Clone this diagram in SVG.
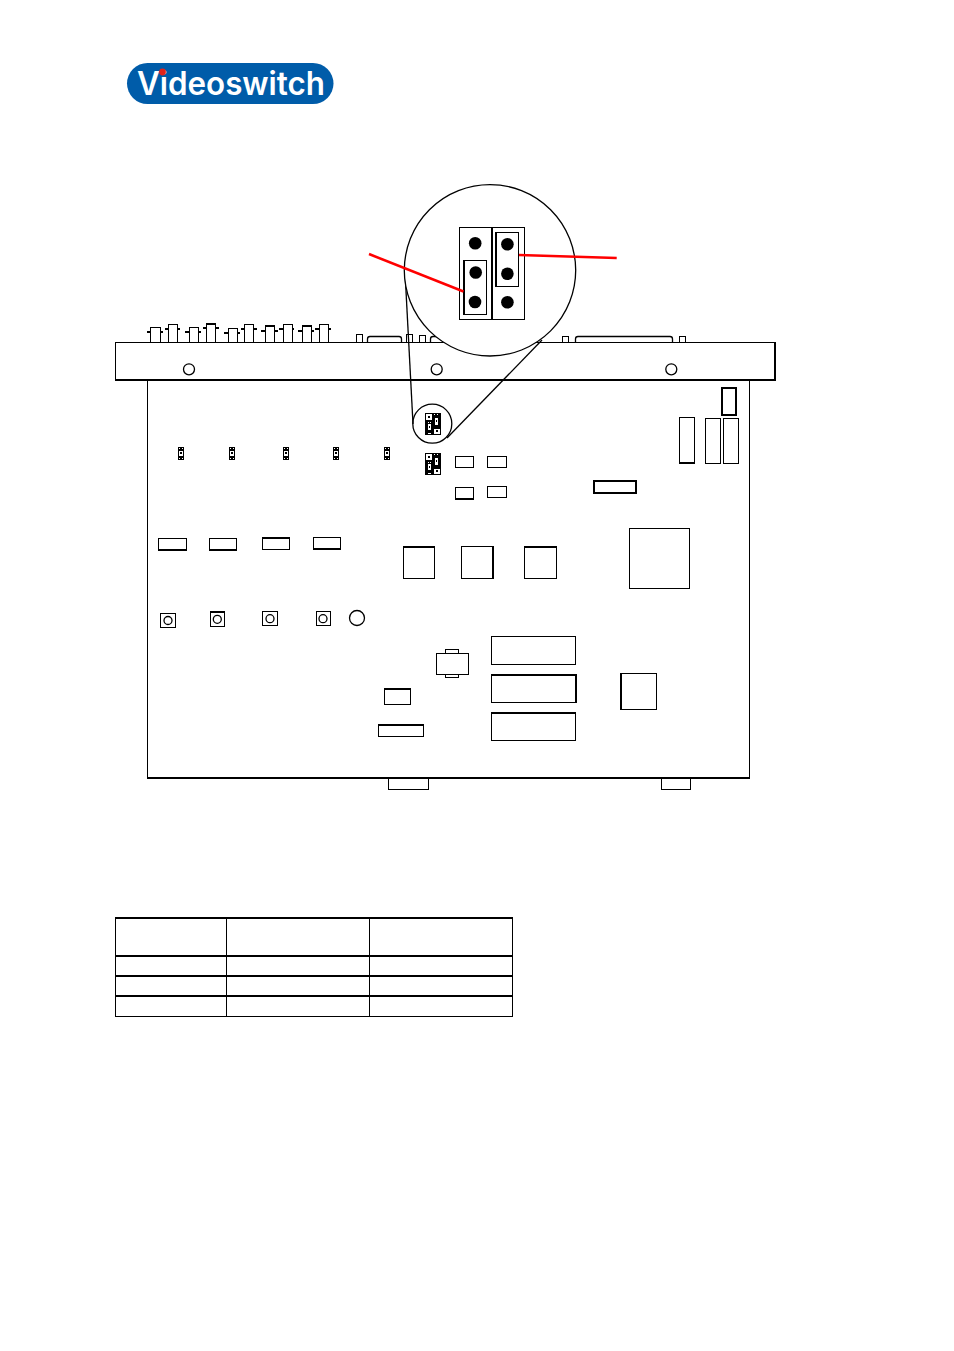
<svg xmlns="http://www.w3.org/2000/svg" width="954" height="1351" viewBox="0 0 954 1351">
<style>
.b{fill:#fff;stroke:#000;stroke-width:1;shape-rendering:crispEdges}
.t{fill:none;stroke:#000;stroke-width:2;shape-rendering:crispEdges}
.c{fill:#fff;stroke:#000;stroke-width:1.3}
.d{fill:#000;stroke:none}
.r{fill:none;stroke:#f00;stroke-width:2.5}
.l{fill:none;stroke:#000;stroke-width:1}
.k{fill:#000;shape-rendering:crispEdges}
.w{fill:#fff;shape-rendering:crispEdges}
</style>
<defs>
<g id="mini">
<rect class="k" x="0" y="0" width="16" height="22"/>
<rect class="w" x="1" y="1" width="6" height="6"/>
<rect class="k" x="3" y="3" width="2" height="2"/>
<rect class="w" x="9" y="1" width="1" height="1"/>
<rect class="w" x="12" y="1" width="1" height="1"/>
<rect class="w" x="10" y="5" width="3" height="7"/>
<rect class="k" x="11" y="7" width="1" height="2"/>
<rect class="w" x="3" y="9" width="1" height="1"/>
<rect class="w" x="5" y="9" width="1" height="1"/>
<rect class="w" x="3" y="11" width="3" height="6"/>
<rect class="k" x="4" y="13" width="1" height="2"/>
<rect class="w" x="9" y="16" width="6" height="5"/>
<rect class="k" x="11" y="17" width="2" height="2"/>
<rect class="w" x="3" y="20" width="3" height="1"/>
</g>
<g id="jmp">
<rect class="k" x="0" y="0" width="6" height="13"/>
<rect class="w" x="1" y="1" width="1" height="1"/>
<rect class="w" x="4" y="1" width="1" height="1"/>
<rect class="w" x="1" y="4" width="4" height="5"/>
<rect class="k" x="2" y="5" width="2" height="2"/>
<rect class="w" x="1" y="11" width="1" height="1"/>
<rect class="w" x="4" y="11" width="1" height="1"/>
</g>
</defs>

<g id="logo">
<rect x="127" y="63" width="206.500" height="41" rx="20.500" fill="#005ca9"/>
<text x="137" y="95" font-family="Inter, 'Liberation Sans', sans-serif" font-size="32" font-weight="600" fill="#fff" textLength="188" lengthAdjust="spacingAndGlyphs">Videoswitch</text>
<circle cx="162.500" cy="72" r="3.400" fill="#e2231a"/>
</g>

<g id="rear-connectors">
<g id="bnc-1"><rect class="b" x="150.500" y="327.500" width="10" height="15"/><path class="t" d="M147 332H151M160 332H163"/></g>
<g id="bnc-2"><rect class="b" x="168.500" y="324.500" width="9" height="18"/><path class="t" d="M165 329H169M177 329H180"/></g>
<g id="bnc-3"><rect class="b" x="189.500" y="327.500" width="9" height="15"/><path class="t" d="M185 332H190M198 332H201"/></g>
<g id="bnc-4"><rect class="b" x="206.500" y="324.500" width="9" height="18"/><path class="t" d="M203 328H207M215 328H219M206 324H216"/></g>
<g id="bnc-5"><rect class="b" x="228.500" y="328.500" width="9" height="14"/><path class="t" d="M224 333H229M237 333H240"/></g>
<g id="bnc-6"><rect class="b" x="244.500" y="324.500" width="9" height="18"/><path class="t" d="M241 329H245M253 329H257"/></g>
<g id="bnc-7"><rect class="b" x="265.500" y="326.500" width="9" height="16"/><path class="t" d="M261 331H266M274 331H278M265 326H275"/></g>
<g id="bnc-8"><rect class="b" x="283.500" y="324.500" width="9" height="18"/><path class="t" d="M279 329H284M292 329H294"/></g>
<g id="bnc-9"><rect class="b" x="302.500" y="326.500" width="9" height="16"/><path class="t" d="M298 331H303M311 331H314M302 326H312"/></g>
<g id="bnc-10"><rect class="b" x="319.500" y="324.500" width="9" height="18"/><path class="t" d="M315 329H320M328 329H331"/></g>
<rect class="b" x="356.500" y="334.500" width="6" height="8"/>
<path class="c" d="M367.500 342.500V339Q367.500 336.500 370 336.500H399Q401.500 336.500 401.500 339V342.500"/>
<rect class="b" x="406.500" y="334.500" width="6" height="8"/>
<rect class="b" x="419.500" y="335.500" width="6" height="7"/>
<path class="c" d="M430.500 342.500V339Q430.500 336.500 433 336.500H450V342.500"/>
<rect class="b" x="562.500" y="336.500" width="6" height="6"/>
<path class="c" d="M575.500 342.500V339Q575.500 336.500 578 336.500H670Q672.500 336.500 672.500 339V342.500"/>
<rect class="b" x="679.500" y="336.500" width="6" height="6"/>
</g>

<g id="front-panel">
<rect class="b" x="115.500" y="342.500" width="659" height="37.500"/>
<path class="t" d="M115 380H776M775 342V381"/>
<circle class="c" cx="189" cy="369.300" r="5.500"/>
<circle class="c" cx="436.700" cy="369.300" r="5.500"/>
<circle class="c" cx="671.300" cy="369.300" r="5.500"/>
</g>

<g id="board">
<path d="M147.500 380V778.500M749.500 380V778.500" class="l" shape-rendering="crispEdges"/>
<rect class="b" x="388.500" y="778.500" width="40" height="11"/>
<rect class="b" x="661.500" y="778.500" width="29" height="11"/>
<path class="t" d="M147 778H750"/>
</g>

<g id="jumpers">
<use href="#jmp" x="178" y="447"/>
<use href="#jmp" x="229" y="447"/>
<use href="#jmp" x="283" y="447"/>
<use href="#jmp" x="333" y="447"/>
<use href="#jmp" x="384" y="447"/>
<g id="jumper-lower"><use href="#mini" x="425" y="453"/></g>
</g>

<g id="parts">
<rect class="b" x="455.500" y="456.500" width="18" height="11"/>
<rect class="b" x="487.500" y="456.500" width="19" height="11"/>
<rect class="b" x="455.500" y="487.500" width="18" height="11"/><path class="t" d="M455 499H474"/>
<rect class="b" x="487.500" y="486.500" width="19" height="11"/>
<rect class="t" x="722" y="388" width="14" height="27"/>
<rect class="b" x="679.500" y="417.500" width="15" height="45"/><path class="t" d="M679 463H695"/>
<rect class="b" x="705.500" y="418.500" width="15" height="45"/>
<rect class="b" x="723.500" y="418.500" width="15" height="45"/>
<rect class="t" x="594" y="481" width="42" height="12"/>
<rect class="b" x="158.500" y="538.500" width="28" height="11"/><path class="t" d="M158 550H187"/>
<rect class="b" x="209.500" y="538.500" width="27" height="11"/><path class="t" d="M209 550H237"/>
<rect class="b" x="262.500" y="537.500" width="27" height="12"/><path class="t" d="M262 538H290"/>
<rect class="b" x="313.500" y="537.500" width="27" height="11"/><path class="t" d="M313 549H341"/>
<rect class="b" x="403.500" y="546.500" width="31" height="32"/><path class="t" d="M403 547H435"/>
<rect class="b" x="461.500" y="546.500" width="32" height="32"/><path class="t" d="M493 546V579"/>
<rect class="b" x="524.500" y="546.500" width="32" height="32"/><path class="t" d="M524 547H557"/>
<rect class="b" x="629.500" y="528.500" width="60" height="60"/>
<g id="sw-1"><rect class="b" x="160.500" y="613.500" width="15" height="14"/><circle class="c" cx="168" cy="620.500" r="4"/></g>
<g id="sw-2"><rect class="b" x="210.500" y="611.500" width="14" height="15"/><path class="t" d="M210 612H225"/><circle class="c" cx="217.300" cy="619.300" r="4"/></g>
<g id="sw-3"><rect class="b" x="262.500" y="611.500" width="15" height="14"/><circle class="c" cx="270" cy="618.700" r="4"/></g>
<g id="sw-4"><rect class="b" x="316.500" y="611.500" width="14" height="14"/><circle class="c" cx="323" cy="618.700" r="4"/></g>
<circle class="c" cx="357" cy="618" r="7.500"/>
<g id="reg"><rect class="b" x="445.500" y="649.500" width="13" height="4"/><rect class="b" x="445.500" y="674.500" width="13" height="3"/><rect class="b" x="436.500" y="653.500" width="32" height="21"/></g>
<rect class="b" x="491.500" y="636.500" width="84" height="28"/>
<rect class="b" x="491.500" y="675.500" width="84" height="27"/><path class="t" d="M491 675H577M576 675V703"/>
<rect class="b" x="491.500" y="713.500" width="84" height="27"/><path class="t" d="M491 713H576"/>
<rect class="b" x="620.500" y="673.500" width="36" height="36"/><path class="t" d="M621 673V710"/>
<rect class="b" x="384.500" y="689.500" width="26" height="15"/><path class="t" d="M384 689H411"/>
<rect class="b" x="378.500" y="725.500" width="45" height="11"/><path class="t" d="M378 725H424"/>
</g>

<g id="connectors">
<path class="l" stroke-width="1.300" style="stroke-width:1.300" d="M405 272L413 424"/>
<path class="l" style="stroke-width:1.300" d="M542 340L447 438"/>
</g>

<g id="zoom-small">
<circle class="c" style="fill:none" cx="432.300" cy="423.700" r="19.500"/>
<use href="#mini" x="425" y="413"/>
</g>

<g id="zoom-large">
<circle class="c" cx="490" cy="270.300" r="85.700"/>
<rect class="b" x="459.500" y="227.500" width="33" height="92"/>
<rect class="b" x="492.500" y="227.500" width="32" height="92"/>
<path class="t" d="M492 227V320"/>
<rect class="b" x="463.500" y="260.500" width="23" height="54"/><path class="t" d="M464 260V315"/>
<rect class="b" x="495.500" y="232.500" width="23" height="54"/><path class="t" d="M496 232V287"/>
<circle class="d" cx="475.200" cy="243.300" r="6.300"/>
<circle class="d" cx="475.700" cy="272.500" r="6.300"/>
<circle class="d" cx="475" cy="302" r="6.300"/>
<circle class="d" cx="507.400" cy="244.300" r="6.300"/>
<circle class="d" cx="507.400" cy="273.700" r="6.300"/>
<circle class="d" cx="507.400" cy="302.300" r="6.300"/>
<path class="r" d="M369 254L463.500 291.500"/>
<path class="r" d="M519 255L616.700 258"/>
</g>

<g id="table">
<path class="b" d="M115.500 918V1016.500H512.500V918Z" style="fill:none"/>
<path class="l" shape-rendering="crispEdges" d="M226.500 918V1016M369.500 918V1016"/>
<path class="t" d="M115 918H513M115 956H513M115 976H513M115 996H513"/>
</g>
</svg>
